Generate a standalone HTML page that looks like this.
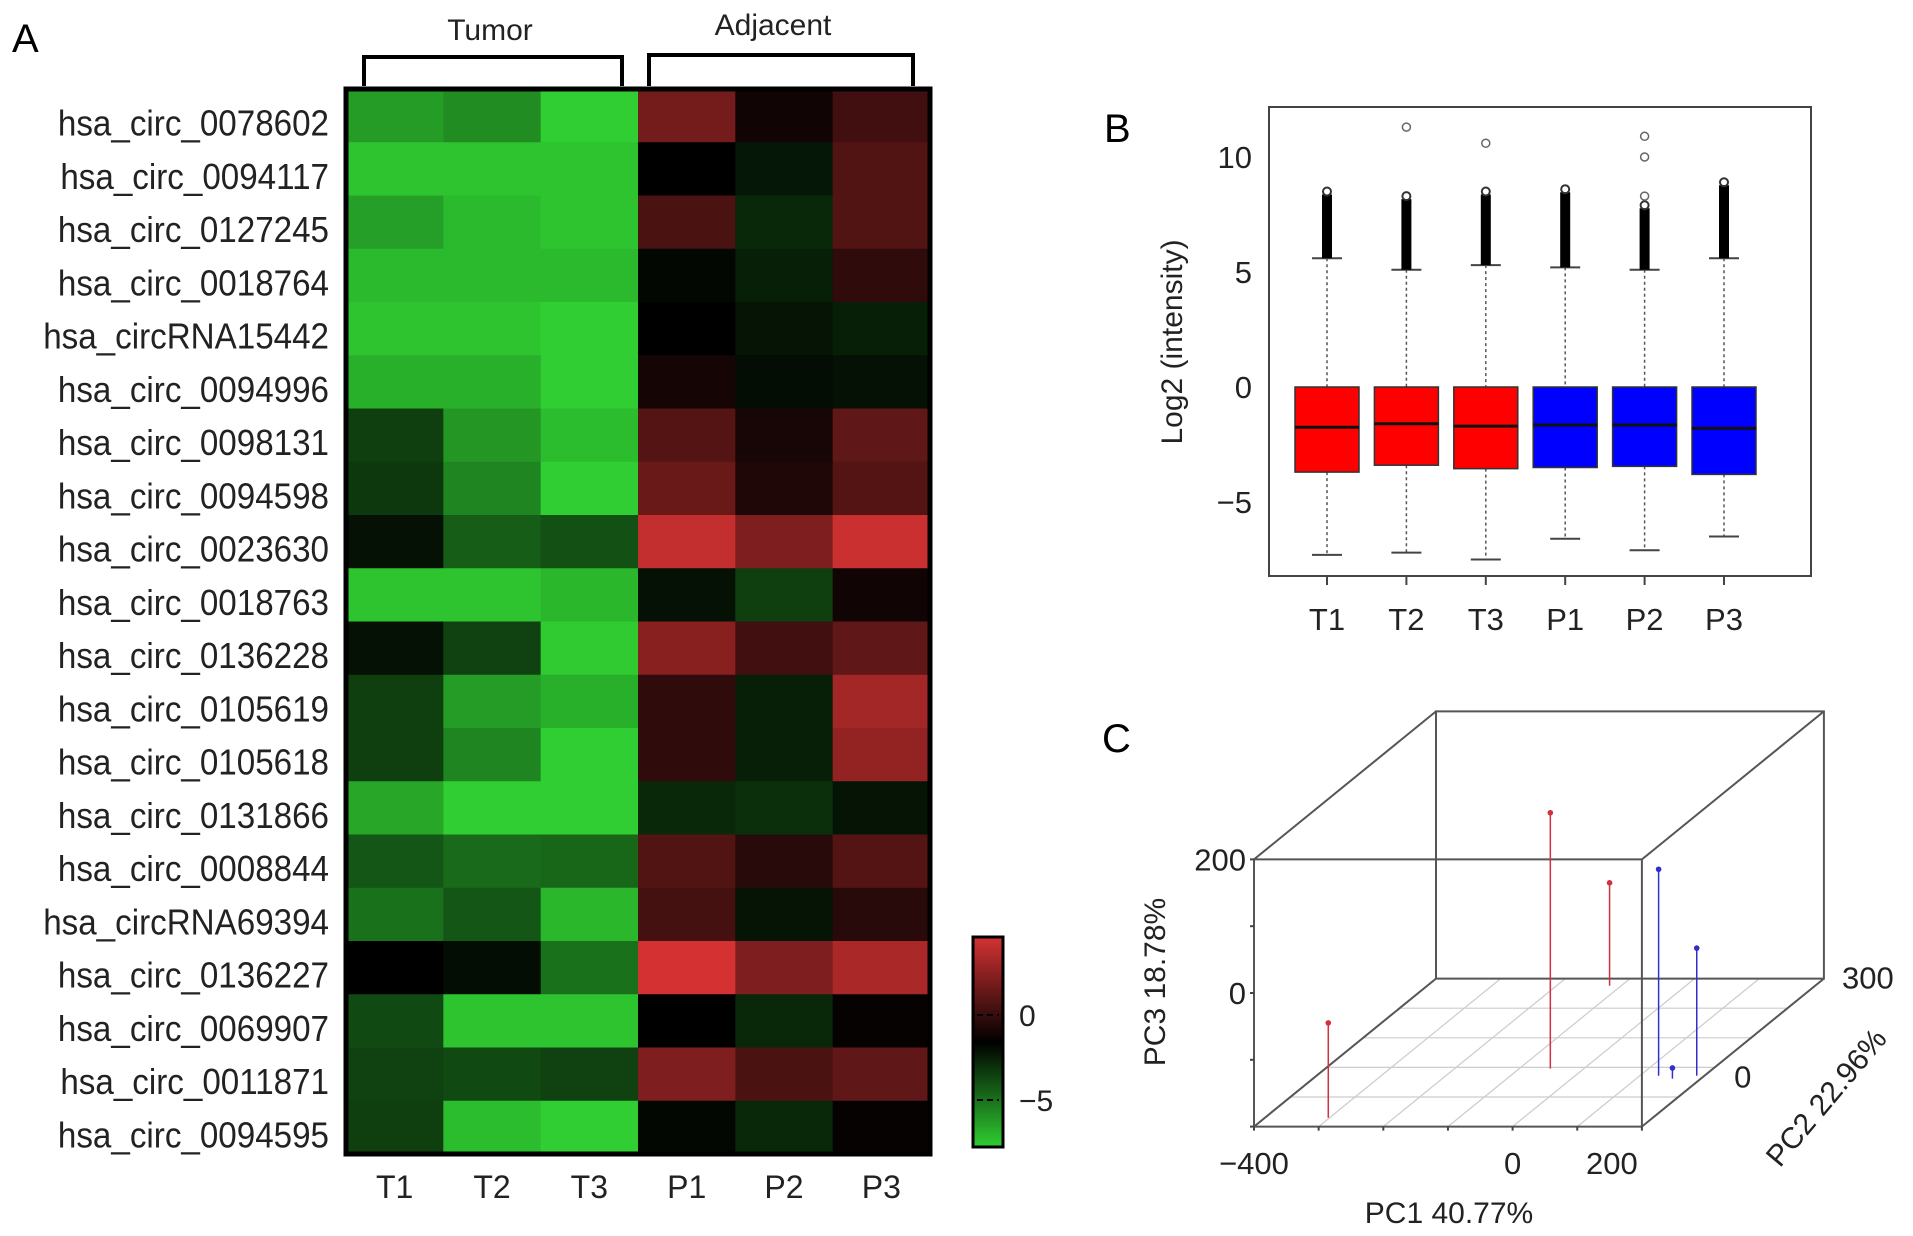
<!DOCTYPE html>
<html><head><meta charset="utf-8"><style>
html,body{margin:0;padding:0;background:#fff;}
svg{display:block;font-family:"Liberation Sans",Arial,sans-serif;}
</style></head><body>
<svg id="fig" width="1913" height="1236" viewBox="0 0 1913 1236">
<rect width="1913" height="1236" fill="#fff"/>
<g id="panelA"></g>
<g id="panelB"></g>
<g id="panelC"></g>
</svg>
<script>
// ---------- Panel A data ----------
const genes = ["hsa_circ_0078602","hsa_circ_0094117","hsa_circ_0127245","hsa_circ_0018764","hsa_circRNA15442","hsa_circ_0094996","hsa_circ_0098131","hsa_circ_0094598","hsa_circ_0023630","hsa_circ_0018763","hsa_circ_0136228","hsa_circ_0105619","hsa_circ_0105618","hsa_circ_0131866","hsa_circ_0008844","hsa_circRNA69394","hsa_circ_0136227","hsa_circ_0069907","hsa_circ_0011871","hsa_circ_0094595"];
const samples = ["T1","T2","T3","P1","P2","P3"];
const heatValues = [
[-6.3,-5.8,-7.8,1.8,-1.1,0.3],
[-7.5,-7.5,-7.5,-1.6,-2.3,0.8],
[-6.4,-7.2,-7.5,0.6,-2.8,0.8],
[-7.2,-7.2,-7.2,-1.8,-2.5,-0.2],
[-7.5,-7.5,-7.8,-1.6,-2.2,-2.5],
[-6.9,-6.9,-7.8,-1.0,-2.0,-2.1],
[-3.5,-6.1,-7.3,0.9,-0.9,1.2],
[-3.3,-5.6,-7.8,1.5,-0.7,0.9],
[-2.1,-4.4,-4.0,4.1,2.1,4.3],
[-7.5,-7.5,-7.1,-2.1,-3.5,-1.1],
[-2.1,-3.6,-7.7,2.4,0.3,1.2],
[-3.5,-6.3,-6.9,-0.2,-2.5,3.2],
[-3.5,-5.6,-7.8,-0.2,-2.5,2.7],
[-6.6,-7.8,-7.8,-2.8,-3.0,-2.2],
[-4.2,-4.8,-4.7,0.8,-0.4,0.9],
[-5.0,-4.2,-7.1,0.4,-2.2,-0.4],
[-1.6,-2.0,-5.0,4.6,2.1,3.4],
[-3.8,-7.5,-7.5,-1.6,-2.8,-1.4],
[-3.6,-3.8,-3.6,2.1,0.6,1.2],
[-3.5,-7.3,-7.8,-1.8,-2.8,-1.4]];
const keyTicks = [0,-5];
// ---------- Panel B data ----------
const boxNames = ["T1","T2","T3","P1","P2","P3"];
const boxQ1 = [-3.7,-3.4,-3.55,-3.5,-3.45,-3.8];
const boxMed = [-1.75,-1.6,-1.7,-1.65,-1.65,-1.8];
const boxQ3 = [0,0,0,0,0,0];
const boxLo = [-7.3,-7.2,-7.5,-6.6,-7.1,-6.5];
const boxHi = [5.6,5.1,5.3,5.2,5.1,5.6];
const boxMax = [8.5,8.3,8.5,8.6,7.9,8.9];
const boxFar = [[],[11.3],[10.6],[],[8.3,10.0,10.9],[]];
const boxGroup = ["T","T","T","P","P","P"];
const yTicksB = [10,5,0,-5];
// ---------- Panel C data ----------
const pc1 = [-302,-52,-118,129,188,156];
const pc2 = [-170,-4,276,-28,-28,-38];
const pc3 = [-58,183,-46,109,-9,-184];
const pcGroup = ["T","T","T","P","P","P"];
const pc1Ticks = [-400,0,200];
const pc3Ticks = [200,0];
const pc2Ticks = [300,0];

const NS="http://www.w3.org/2000/svg";
function mk(tag, attrs, parent){const e=document.createElementNS(NS,tag);for(const k in attrs)e.setAttribute(k,attrs[k]);parent.appendChild(e);return e;}

// ================= Panel A =================
const A=document.getElementById('panelA');
const hx0=346,hx1=930,hy0=89,hy1=1154;
const cw=(hx1-hx0)/samples.length, ch=(hy1-hy0)/genes.length;
const vMin=-7.8,vMid=-1.6,vMax=4.6;
function heatColor(v){
  if(v>=vMid){const t=Math.min(1,(v-vMid)/(vMax-vMid));return `rgb(${Math.round(212*t)},${Math.round(50*t)},${Math.round(50*t)})`;}
  const t=Math.min(1,(vMid-v)/(vMid-vMin));return `rgb(${Math.round(48*t)},${Math.round(206*t)},${Math.round(50*t)})`;
}
let t=mk('text',{x:12,y:52,'font-size':40},A);t.textContent="A";


heatValues.forEach((row,r)=>{row.forEach((v,c)=>{
  const rc=mk('rect',{x:hx0+c*cw,y:hy0+r*ch,width:cw+0.6,height:ch+0.6,fill:heatColor(v)},A);
  
  
});});
let fr=mk('rect',{x:hx0,y:hy0,width:hx1-hx0,height:hy1-hy0,fill:'none',stroke:'#000','stroke-width':5},A);


genes.forEach((g,r)=>{
  const e=mk('text',{x:329,y:hy0+(r+0.5)*ch+20,'font-size':31,'text-anchor':'end',fill:'#222'},A);e.textContent=g;
  
  
  const len=e.getComputedTextLength();
  e.setAttribute('font-size',36);
  e.setAttribute('textLength',len*1.07);
  e.setAttribute('lengthAdjust','spacingAndGlyphs');
});
samples.forEach((s,c)=>{
  const e=mk('text',{x:hx0+(c+0.5)*cw,y:1198,'font-size':32,'text-anchor':'middle',fill:'#222'},A);e.textContent=s;
  
  
});
[[364,622,57,"Tumor",490,40],[649,913,55,"Adjacent",773,35]].forEach(b=>{
  const p=mk('path',{d:`M${b[0]},86 V${b[2]} H${b[1]} V86`,fill:'none',stroke:'#000','stroke-width':4},A);
  
  
  const e=mk('text',{x:b[4],y:b[5],'font-size':30,'text-anchor':'middle',fill:'#222'},A);e.textContent=b[3];
  
  
});
const kx=973,kw=30,ky0=937,ky1=1147;
const kScale=v=>1015+(0-v)*17;
const defs=mk('defs',{},A);
const lg=mk('linearGradient',{id:'kg',x1:0,y1:0,x2:0,y2:1},defs);
const kTop=(1015-ky0)/17, kBot=-5-(ky1-1100)/17;
const nStops=12;
for(let i=0;i<=nStops;i++){const v=kTop+(kBot-kTop)*i/nStops;mk('stop',{offset:(i/nStops),'stop-color':heatColor(v)},lg);}
const kr=mk('rect',{x:kx,y:ky0,width:kw,height:ky1-ky0,fill:'url(#kg)',stroke:'#000','stroke-width':3},A);


keyTicks.forEach(v=>{
  const y=kScale(v);
  const l=mk('line',{x1:kx+4,x2:kx+kw-4,y1:y,y2:y,stroke:'#000','stroke-width':2,'stroke-dasharray':'6,4'},A);
  
  
  const e=mk('text',{x:1019,y:y+11,'font-size':30,fill:'#222'},A);e.textContent=v<0?'\u2212'+Math.abs(v):v;
  
  
});

// ================= Panel B =================
const B=document.getElementById('panelB');
const bx0=1269,bx1=1811,by0=107,by1=576;
const yB=v=>387-v*23;
const xB=i=>1327+i*79.4;
t=mk('text',{x:1104,y:142,'font-size':40},B);t.textContent="B";


let bf=mk('rect',{x:bx0,y:by0,width:bx1-bx0,height:by1-by0,fill:'none',stroke:'#444','stroke-width':2},B);


yTicksB.forEach(v=>{
  const e=mk('text',{x:1252,y:yB(v)+11,'font-size':31,'text-anchor':'end',fill:'#222'},B);e.textContent=v<0?'\u2212'+Math.abs(v):v;
  
  
});
t=mk('text',{x:0,y:0,'font-size':30,'text-anchor':'middle',fill:'#222',transform:'translate(1182,342) rotate(-90)'},B);t.textContent="Log2 (intensity)";


boxNames.forEach((n,i)=>{
  const cx=xB(i),w=64,col=boxGroup[i]==='T'?'#ff0000':'#0000ff';
  const g=mk('g',{},B);
  
  
  mk('line',{x1:cx,x2:cx,y1:yB(boxHi[i]),y2:yB(boxQ3[i]),stroke:'#555','stroke-width':1.5,'stroke-dasharray':'3,3'},g);
  mk('line',{x1:cx,x2:cx,y1:yB(boxQ1[i]),y2:yB(boxLo[i]),stroke:'#555','stroke-width':1.5,'stroke-dasharray':'3,3'},g);
  mk('line',{x1:cx-15,x2:cx+15,y1:yB(boxHi[i]),y2:yB(boxHi[i]),stroke:'#444','stroke-width':2},g);
  mk('line',{x1:cx-15,x2:cx+15,y1:yB(boxLo[i]),y2:yB(boxLo[i]),stroke:'#444','stroke-width':2},g);
  mk('line',{x1:cx,x2:cx,y1:yB(boxHi[i]),y2:yB(boxMax[i])+3,stroke:'#000','stroke-width':10},g);
  mk('circle',{cx:cx,cy:yB(boxMax[i]),r:4,fill:'none',stroke:'#333','stroke-width':2},g);
  boxFar[i].forEach(v=>mk('circle',{cx:cx,cy:yB(v),r:4,fill:'none',stroke:'#666','stroke-width':1.5},g));
  mk('rect',{x:cx-w/2,y:yB(boxQ3[i]),width:w,height:yB(boxQ1[i])-yB(boxQ3[i]),fill:col,stroke:'#333','stroke-width':1.5},g);
  mk('line',{x1:cx-w/2,x2:cx+w/2,y1:yB(boxMed[i]),y2:yB(boxMed[i]),stroke:'#111','stroke-width':3},g);
  mk('line',{x1:cx,x2:cx,y1:by1,y2:by1+9,stroke:'#444','stroke-width':2},g);
  const e=mk('text',{x:cx,y:630,'font-size':31,'text-anchor':'middle',fill:'#222'},B);e.textContent=n;
  
  
});

// ================= Panel C =================
const C=document.getElementById('panelC');
t=mk('text',{x:1102,y:752,'font-size':40},C);t.textContent="C";


const X3=v=>1254+(v+400)*0.6465;
const Z3=v=>993-v*0.668;
const D3=v=>(v+200)/500;
const dx=182,dy=-148;
function proj(a,b,c){const f=D3(b);return [X3(a)+f*dx,Z3(c)+f*dy];}
const floorY=Z3(-200);
for(let k=1;k<5;k++){const f=k/5;
  const l=mk('line',{x1:X3(-400)+f*dx,x2:X3(200)+f*dx,y1:floorY+f*dy,y2:floorY+f*dy,stroke:'#ccc','stroke-width':1.2},C);
  
  
}
for(let v=-300;v<200;v+=100){
  const l=mk('line',{x1:X3(v),y1:floorY,x2:X3(v)+dx,y2:floorY+dy,stroke:'#ccc','stroke-width':1.2},C);
  
  
}
const fx0=X3(-400),fx1=X3(200),fy0=Z3(200),fy1=Z3(-200);
const boxPath=`M${fx0},${fy0}H${fx1}V${fy1}H${fx0}Z M${fx0+dx},${fy0+dy}H${fx1+dx}V${fy1+dy}H${fx0+dx}Z M${fx0},${fy0}l${dx},${dy} M${fx1},${fy0}l${dx},${dy} M${fx0},${fy1}l${dx},${dy} M${fx1},${fy1}l${dx},${dy}`;
let bp=mk('path',{d:boxPath,fill:'none',stroke:'#555','stroke-width':2},C);


for(let v=-400;v<=200;v+=100){const l=mk('line',{x1:X3(v),x2:X3(v),y1:fy1,y2:fy1+4,stroke:'#444','stroke-width':2},C);
  
  }
for(let v=-200;v<=200;v+=100){const l=mk('line',{x1:fx0-4,x2:fx0,y1:Z3(v),y2:Z3(v),stroke:'#444','stroke-width':2},C);
  
  }
pc1.forEach((a,i)=>{
  const col=pcGroup[i]==='T'?'#d03040':'#3030c8';
  const top=proj(a,pc2[i],pc3[i]), bot=proj(a,pc2[i],-200);
  const l=mk('line',{x1:top[0],y1:top[1],x2:bot[0],y2:bot[1],stroke:col,'stroke-width':1.5},C);
  
  
  const p=mk('circle',{cx:top[0],cy:top[1],r:2.8,fill:col},C);
  
  
});
pc1Ticks.forEach(v=>{
  const e=mk('text',{x:X3(v)-(v===200?30:0),y:1174,'font-size':31,'text-anchor':'middle',fill:'#222'},C);e.textContent=v<0?'\u2212'+Math.abs(v):v;
  
  
});
pc3Ticks.forEach(v=>{
  const e=mk('text',{x:1246,y:Z3(v)+11,'font-size':31,'text-anchor':'end',fill:'#222'},C);e.textContent=v;
  
  
});
pc2Ticks.forEach(v=>{
  const f=D3(v);
  const e=mk('text',{x:fx1+f*dx+(v===300?44:28),y:fy1+f*dy+(v===300?10:20),'font-size':31,'text-anchor':'middle',fill:'#222'},C);e.textContent=v;
  
  
});
t=mk('text',{x:1449,y:1223,'font-size':30,'text-anchor':'middle',fill:'#222'},C);t.textContent="PC1 40.77%";


t=mk('text',{x:0,y:0,'font-size':30,'text-anchor':'middle',fill:'#222',transform:'translate(1165,982) rotate(-90)'},C);t.textContent="PC3 18.78%";


t=mk('text',{x:0,y:0,'font-size':30,'text-anchor':'middle',fill:'#222',transform:'translate(1834,1104) rotate(-50)'},C);t.textContent="PC2 22.96%";


</script>
</body></html>
